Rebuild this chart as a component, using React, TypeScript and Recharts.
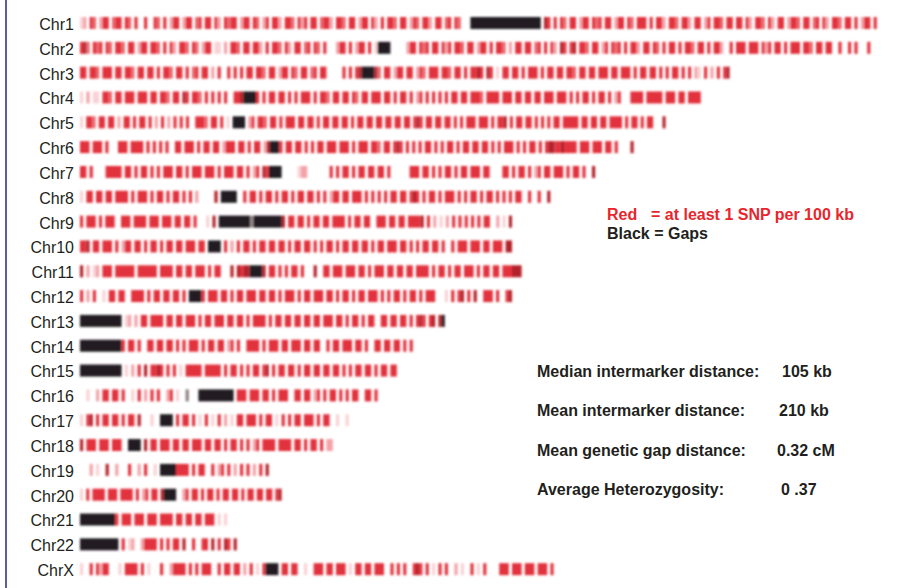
import { BarChart, Bar, XAxis, YAxis } from 'recharts';

// chromosome order as printed on the figure
const chromosomes = [
  'Chr1', 'Chr2', 'Chr3', 'Chr4', 'Chr5', 'Chr6', 'Chr7', 'Chr8', 'Chr9', 'Chr10', 'Chr11', 'Chr12',
  'Chr13', 'Chr14', 'Chr15', 'Chr16', 'Chr17', 'Chr18', 'Chr19', 'Chr20', 'Chr21', 'Chr22', 'ChrX',
];

// drawn length of each chromosome (Mb)
const lengthsMb = [249, 247, 203, 195, 183, 174, 161, 147, 135, 135, 138, 135, 114, 104, 99, 93, 85, 80, 60, 63, 46, 49, 148];

// one character per ~1 Mb window along the chromosome
// R red, r mid red, p pink, l pale pink, D dark red, K black gap, g grey, . no SNP
const bandPatterns = [
  'lp.Rr.pRR.rRR.Rr.R..R..Rr.R.pRR.pRR.rR.RR.Rp.RrRR.pRR.Rr.pR.RRp.RRr.RpR.RR.rRRp.RRr.RR.pRR.Rp.R.RRr.RR.pRr.RRp.RR.rR.Rr...KKKKKKKKKKKKKKKKKKKKKK.DR.R.Rr.RR.pRR.RrR.RR.pRR.Rr.RRR.R.RRp.RRr.RRp.RR.pR.RRr.RR.RR.Rp.RRr.Rp.RR.pRRr.RR.rR.Rp.RRr.RR.R.pRR.R',
  'RDr.RrR.Rr.RRr.RR.pRR.RRr.R.Rp.RRr.Rr.pRR.ll.p.RRr.RR.RRp.R.RRr.Rp.RR.rR.Rr.R...pRR.R.pRR.R.lKKKK.....pRR.RrR.RR.RpR.RRr.RR.pRR.R.RRr.p.RR.RR.rR.R.Rp.DR.RD.RRr.RR.pR.RrR.R.RRp.RR.Rr.R.RR.R.RRr.RR.R.RRp..R.RRR.RRR.RpR.RR.R.RRR.RRr.RR.RR..R..R.R...R',
  'RR.RRr.RRR.RR.RRr.RR.RR.R.RRr.RR.R.rR.RR.p.R..R.R.R.RR.RRr.RR.pRR.Rr.RR.rR.RR.....R.R.RDKKKKDr.RR.pRR.RR.pRr.RRR.RRr.RR.R.RRDR.DR.l.RR.RR.R.RRR.R.RR.RR.RRr.RR.RR.RRR.RR.RRR.R.RR.RR.R.R.RR.R.R.pl.R.p.R.RD',
  'l.p.ll.RRr.RR.RRR.RRR.RR.RRr.RR.DR.RRr.R.R.R.R..RRDKKKKR.R.RR.RR.R.R.RRR.R.RRr.RR.RR.Rr.RR.RRR.RR.R.RR.R.pR.R.R.R.R.RR.RR.RRRr.RRRR.RRR.RR.RR.RR.RRR.RRR.R.R.RR.R.RR.R.pR...RRRR.RRRRR.RRR.RR.RRRR.',
  'l.RRr.RR.RR.p.RR.R.RR.R.p.R.p.R.R.R..RRRr.RR.R.l.KKKK.pR.RRr.RR.R.RRR.RR.RR.R.RR.RR.RR.R.RR.RR.RR.RR.RR.RR.RDR.RR.RR.RR.R.R.RRR.RRR.R.RRD.R.RR.RR.R.R.R.RR.RRRRR.RR.RR.RR.RRRR.R.RR.R.RR...D',
  'RRR.RRR.R...RRR.RRRR.R.R.R.R..RR.RRR.R.RR.RR.pRRR.RR.R.RR.pDKKKR.RR.RR.R.R.RR.RRR.RRR.R.RRR.RRr.RR.RDR.R.R.R.RR.R.R.RR.R.RR.RR.RR.R.R.RRR.R.R.RR.R.RDDRRDRRRR.RRR.RRR.RR.R....D.',
  'RR.R....RRRRR.RR.R.RR.R.R.RRR.RR.R.RRR.RRR.R.RRR.RR.R.pR.DRKKKK.....lpp.......R.R.RR.R.RR.RR.RR.R......RRR.RR.R.R.RR.R.RR.RRR.RR....RR.R.RR.R.pR.RR.RRR.R.RR.R..D',
  'l.RR.RR.RR.RRRR.R.RRR.R.RR.R.RR.R.R.p.....D.KKKKK..R.RR.R.RR.R.RR.R.RR.RR.R.R.pRR.RR.RRR.R.R.R.R.RR.RR.RDR.R.RR.R.RRR.R.R.RR.R.RR.R.R.R.RR..R..R..D',
  'R.RRR.R.RRR..RRR.RRRR.RRR.RRR.RR.RR.R...l.D.KKKKKKKKKKgKKKKKKKKKD.RR.RR.R.RR.RR.RRRR.R.RR.RR..RRR.RR.RR.RRRRD.R.p.l.p.R.R.R.R.R.RR..p.l.D',
  'RRD.RR.RRR.R.pRR.RR.R.RR.R.RR.RR.RRR.RR.KKKK.R.p.R.RR.R.RR.RR.RR.R.RR.RR.R.R.RR.R.RR.RR.RR.R.RR.RRR.RR.R.R.RR.RR.R..R.RRR.RRR.RR.RRR.DD',
  'D.p.lp.RRR.RRRRRR.RRRRRR.RRRR.RR.RR.RRR.R.RR...D.DRDDKKKKD.RR.R.R.RR.R...D..RR.RRR.RRR.RR.R.RRR.RR.RR.RR.RRRR.R.RR.R.RR.RRR.R.RR.RR.RRRDDD',
  'R.p.R..l.RR.RR..RRRR.R.RR.RR.RR.R.KKKKR.RRR.RR.R.RR.RRR.RR.RR.R.RRR.R.RR.RRR.RR.R.RR.R.RR.RRR.R.R.RR.R.RR.R.RRR...l.R.RD.R.D..RRR.R..RD',
  'KKKKKKKKKKKKK.lp.p.RR.RRRR.RR.RR.RRR.R.RR.RRR.RR.RR.R.RRRR.R.RR.RR.RR.RR.RR.RRR.RR.R.RR.R.RR..RR.RR.RR.R.RDR.RD.DK',
  'KKKKKKKKKKKKKR.RR.R..RR.RR.RR.R.R.RRR.R.RR.RR.pR.R..RRRR.R.RRR.RR.RRR.RR.RR..R.RR.RRR.RR.R..RR.RR.RR.R.R',
  'KKKKKKKKKKKKK.l.p.R.D.RRDR.R.R.l.RRRRR.RRRRR.R.RR.R.R.RR.RD.R.RR.RR.R.RR.RR.RR.RR.R.R.RR.RR.R.RR.RR',
  '..l..p.RR.RR.R..l.R.p.R.R..pR.l..g...KKKKKKKKKKK.RRR.RRR.RR.R.RRR..RR.RR.pR.R.RR.R.R.RR..RR.R',
  'l.RD.R.RR.RR.R.RR.D...l..KKKK.R.RR.R.l.R.l.R.p.l.RR.RRR.R.RR.l.R.R.RR.RRR.R.RR..l..l.',
  'D.RRR.RRR.RRR..KKKK.D.RR.RRR.RR.RR.RRR.RR.RR.R.RR.R.R.pR.RRRR.RRRR.RR.R.RR.R.pp.',
  '...p.l..D..p...R..p.R..l.KKKKKRRRR.R.RR..R.pR.R.p.R.R.p.R.D.',
  'l.R.RRRR.RRR.RRRR.R.pR.RR.DKKKK..pR.RR.R.RR.R.RR.RR.R.RR.RR.RR.RD',
  'KKKKKKKKKKKR.RRR.RRR.RRR.RRRR.RR.RR.RR.RRR.l.l',
  'KKKKKKKKKKKK.R.lp..pRRRR.R.R.RR.D..R..RR.D.R.DR.D',
  'l..R.RpRR...l.RRRR.R.l...R..pRRRR.R.R.RRR..R.RR.RR.p.R.l.RKKKK.RR.RR..l..RRR.RR.RRR.l.RR.RR.RRR..R.R.R..RDR.R.l.R.R..p.l..R.l.R....RRR.RRR.RRR.RRR.R',
];

const legendRed = ['Red', '= at least 1 SNP per 100 kb'];
const legendBlack = 'Black = Gaps';
const statLabels = [
  'Median intermarker distance:',
  'Mean intermarker distance:',
  'Mean genetic gap distance:',
  'Average Heterozygosity:',
];
const statValues = ['105 kb', '210 kb', '0.32 cM', '0 .37'];

const shades: Record<string, string> = {
  R: '#e2323c',
  r: '#ea636b',
  p: '#f3a2a8',
  l: '#f9d2d5',
  D: '#b3202a',
  K: '#231f20',
  g: '#8c7f80',
};

const rows = chromosomes.map((name, i) => ({ name, length: lengthsMb[i], bands: bandPatterns[i] }));

const FONT = "'Liberation Sans', Arial, Helvetica, sans-serif";

function BandedBar(props: any) {
  const { x, y, width, height, payload } = props;
  const bands: string = payload.bands;
  const step = width / bands.length;
  const rects = [];
  let i = 0;
  while (i < bands.length) {
    const c = bands[i];
    let j = i;
    while (j < bands.length && bands[j] === c) j++;
    if (c !== '.') {
      rects.push(
        <rect key={i} x={x + i * step} y={y} width={(j - i) * step} height={height} fill={shades[c] || shades.R} />
      );
    }
    i = j;
  }
  return <g filter="url(#soft)">{rects}</g>;
}

function ChrTick(props: any) {
  const { x, y, payload } = props;
  return (
    <text x={x + 2} y={y} dy={6.5} textAnchor="end" fontSize={16} fontFamily={FONT} fill="#231f20">
      {payload.value}
    </text>
  );
}

export default function App() {
  const statY = [377, 416, 456, 495];
  const valueX = [782, 779, 777, 781];
  return (
    <div style={{ position: 'absolute', left: 0, top: 0, width: 914, height: 588, background: '#fff' }}>
      <svg width={0} height={0} style={{ position: 'absolute' }}>
        <defs>
          <filter id="soft" x="-2%" y="-50%" width="104%" height="200%">
            <feGaussianBlur stdDeviation={0.8} />
          </filter>
        </defs>
      </svg>
      <BarChart
        width={914}
        height={588}
        data={rows}
        layout="vertical"
        margin={{ top: 11, right: 2, bottom: 6, left: 0 }}
      >
        <XAxis type="number" domain={[0, 260]} hide />
        <YAxis
          type="category"
          dataKey="name"
          width={80}
          interval={0}
          tickLine={false}
          axisLine={false}
          tick={<ChrTick />}
        />
        <Bar dataKey="length" barSize={12} shape={<BandedBar />} isAnimationActive={false} />
      </BarChart>
      <svg
        width={914}
        height={588}
        style={{ position: 'absolute', left: 0, top: 0, pointerEvents: 'none' }}
        fontFamily={FONT}
        fontWeight="bold"
        fontSize={16}
      >
        <rect x={5} y={0} width={2} height={588} fill="#5c5f9e" />
        <text x={607} y={220} fill="#e8262d">{legendRed[0]}</text>
        <text x={651} y={220} fill="#e8262d">{legendRed[1]}</text>
        <text x={607} y={239} fill="#231f20">{legendBlack}</text>
        {statLabels.map((s, i) => (
          <text key={s} x={537} y={statY[i]} fill="#231f20">{s}</text>
        ))}
        {statValues.map((s, i) => (
          <text key={s} x={valueX[i]} y={statY[i]} fill="#231f20">{s}</text>
        ))}
      </svg>
    </div>
  );
}
